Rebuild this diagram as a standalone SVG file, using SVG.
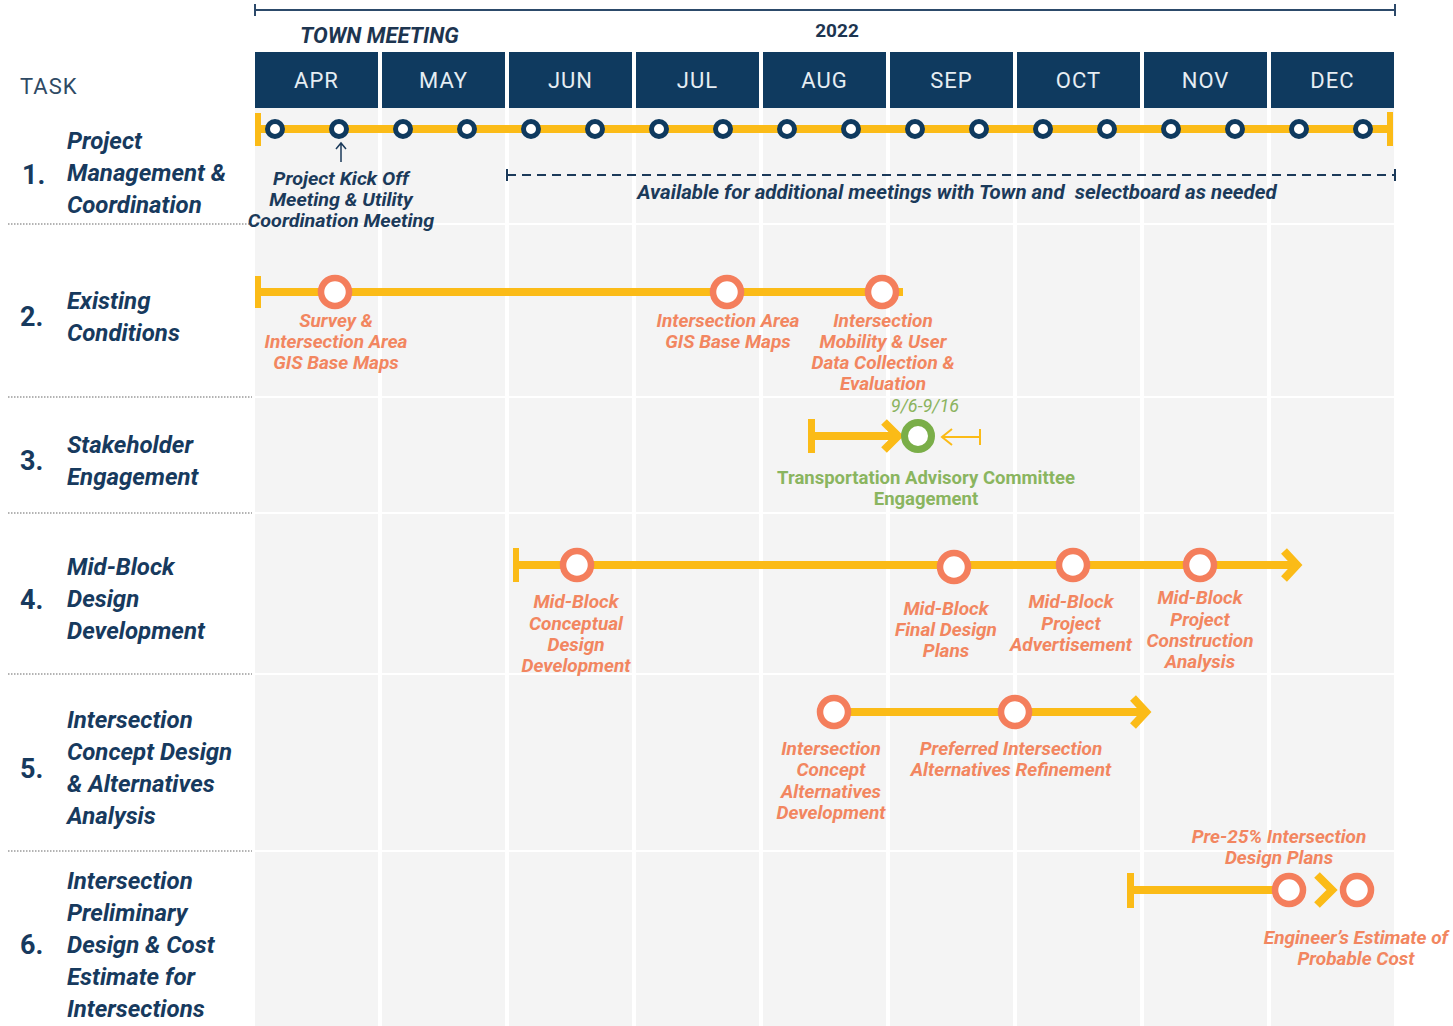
<svg xmlns="http://www.w3.org/2000/svg" width="1453" height="1026" viewBox="0 0 1453 1026">
<style>
.col{fill:#f4f4f4}
.hdr{fill:#0f3a5f}
.mon{font-family:Roboto,"Liberation Sans",sans-serif;font-size:22px;fill:#e6edf3;text-anchor:middle;letter-spacing:1px}
.task{font-family:Roboto,"Liberation Sans",sans-serif;font-size:24px;font-weight:bold;font-style:italic;fill:#173a5e}
.num{font-family:Roboto,"Liberation Sans",sans-serif;font-size:27px;font-weight:bold;fill:#173a5e}
.nv{font-family:Roboto,"Liberation Sans",sans-serif;font-size:19px;font-weight:bold;font-style:italic;fill:#1b3a5a;text-anchor:middle}
.av{font-family:Roboto,"Liberation Sans",sans-serif;font-size:20.5px;font-weight:bold;font-style:italic;fill:#1b3a5a;text-anchor:middle;white-space:pre}
.or{font-family:Roboto,"Liberation Sans",sans-serif;font-size:19px;font-weight:bold;font-style:italic;fill:#f28660;text-anchor:middle}
.gr{font-family:Roboto,"Liberation Sans",sans-serif;font-size:18.5px;font-weight:bold;fill:#8ab55f;text-anchor:middle}
.dt{font-family:Roboto,"Liberation Sans",sans-serif;font-size:18px;font-style:italic;fill:#8bb35e;text-anchor:middle}
.sep{stroke:#9a9a9a;stroke-width:1.5;stroke-dasharray:1.5 1.5;fill:none}
.yl{stroke:#fbbb17;stroke-width:8;fill:none}
.cap{fill:#fbbb17}
.dot{fill:#fff;stroke:#0f3a5f;stroke-width:5}
.oc{fill:#fff;stroke:#f47e5c;stroke-width:6.5}
.gc{fill:#fff;stroke:#7aae48;stroke-width:7}
</style>
<rect width="1453" height="1026" fill="#ffffff"/>
<g id="grid">
<rect class="col" x="255" y="108" width="123" height="918"/>
<rect class="col" x="382" y="108" width="123" height="918"/>
<rect class="col" x="509" y="108" width="123" height="918"/>
<rect class="col" x="636" y="108" width="123" height="918"/>
<rect class="col" x="763" y="108" width="123" height="918"/>
<rect class="col" x="890" y="108" width="123" height="918"/>
<rect class="col" x="1017" y="108" width="123" height="918"/>
<rect class="col" x="1144" y="108" width="123" height="918"/>
<rect class="col" x="1271" y="108" width="123" height="918"/>
<g stroke="#ffffff" stroke-width="2">
<line x1="255" y1="224" x2="1394" y2="224"/>
<line x1="255" y1="397" x2="1394" y2="397"/>
<line x1="255" y1="513" x2="1394" y2="513"/>
<line x1="255" y1="674" x2="1394" y2="674"/>
<line x1="255" y1="851" x2="1394" y2="851"/>
</g>
<line class="sep" x1="8" y1="224" x2="252" y2="224"/>
<line class="sep" x1="8" y1="397" x2="252" y2="397"/>
<line class="sep" x1="8" y1="513" x2="252" y2="513"/>
<line class="sep" x1="8" y1="674" x2="252" y2="674"/>
<line class="sep" x1="8" y1="851" x2="252" y2="851"/>
</g>
<g id="header">
<path d="M255,4 V16 M255,10 H1395 M1395,4 V16" stroke="#2c4a6a" stroke-width="2" fill="none"/>
<text x="300" y="43" font-family="Roboto,'Liberation Sans',sans-serif" font-size="22" font-weight="bold" font-style="italic" fill="#1d3550">TOWN MEETING</text>
<text x="837" y="37" font-family="Roboto,'Liberation Sans',sans-serif" font-size="19" font-weight="bold" fill="#1d3550" text-anchor="middle">2022</text>
<text x="20" y="94" font-family="Roboto,'Liberation Sans',sans-serif" font-size="22" fill="#2f4a64" letter-spacing="1">TASK</text>
<rect class="hdr" x="255" y="52" width="123" height="56"/>
<rect class="hdr" x="382" y="52" width="123" height="56"/>
<rect class="hdr" x="509" y="52" width="123" height="56"/>
<rect class="hdr" x="636" y="52" width="123" height="56"/>
<rect class="hdr" x="763" y="52" width="123" height="56"/>
<rect class="hdr" x="890" y="52" width="123" height="56"/>
<rect class="hdr" x="1017" y="52" width="123" height="56"/>
<rect class="hdr" x="1144" y="52" width="123" height="56"/>
<rect class="hdr" x="1271" y="52" width="123" height="56"/>
<text class="mon" x="316.5" y="88">APR</text>
<text class="mon" x="443.5" y="88">MAY</text>
<text class="mon" x="570.5" y="88">JUN</text>
<text class="mon" x="697.5" y="88">JUL</text>
<text class="mon" x="824.5" y="88">AUG</text>
<text class="mon" x="951.5" y="88">SEP</text>
<text class="mon" x="1078.5" y="88">OCT</text>
<text class="mon" x="1205.5" y="88">NOV</text>
<text class="mon" x="1332.5" y="88">DEC</text>
</g>
<g id="task-labels">
<text class="num" x="22" y="184">1.</text>
<text class="task"><tspan x="67" y="149">Project</tspan><tspan x="67" y="181">Management &amp;</tspan><tspan x="67" y="213">Coordination</tspan></text>
<text class="num" x="20" y="326">2.</text>
<text class="task"><tspan x="67" y="309">Existing</tspan><tspan x="67" y="341">Conditions</tspan></text>
<text class="num" x="20" y="470">3.</text>
<text class="task"><tspan x="67" y="453">Stakeholder</tspan><tspan x="67" y="485">Engagement</tspan></text>
<text class="num" x="20" y="609">4.</text>
<text class="task"><tspan x="67" y="575">Mid-Block</tspan><tspan x="67" y="607">Design</tspan><tspan x="67" y="639">Development</tspan></text>
<text class="num" x="20" y="778">5.</text>
<text class="task"><tspan x="67" y="728">Intersection</tspan><tspan x="67" y="760">Concept Design</tspan><tspan x="67" y="792">&amp; Alternatives</tspan><tspan x="67" y="824">Analysis</tspan></text>
<text class="num" x="20" y="954">6.</text>
<text class="task"><tspan x="67" y="889">Intersection</tspan><tspan x="67" y="921">Preliminary</tspan><tspan x="67" y="953">Design &amp; Cost</tspan><tspan x="67" y="985">Estimate for</tspan><tspan x="67" y="1017">Intersections</tspan></text>
</g>
<g id="connectors">
<line class="yl" x1="258" y1="129" x2="1390" y2="129"/>
<rect class="cap" x="255" y="113" width="6" height="33"/>
<rect class="cap" x="1387" y="112" width="6" height="34"/>
<path d="M341,162 V143 M336,149 L341,143 L346,149" stroke="#1b3a5a" stroke-width="1.5" fill="none"/>
<path d="M507,169 V181 M1395,169 V181" stroke="#1b3a5a" stroke-width="2" fill="none"/>
<line x1="507" y1="175" x2="1395" y2="175" stroke="#1b3a5a" stroke-width="2" stroke-dasharray="9 6"/>
<line class="yl" x1="258" y1="292" x2="903" y2="292"/>
<rect class="cap" x="255" y="276" width="6" height="32"/>
<line class="yl" x1="811" y1="436" x2="895" y2="436"/>
<rect class="cap" x="808" y="419" width="7" height="34"/>
<polyline class="yl" points="884,422 898,436 884,450"/>
<path d="M980,429 V445 M980,437 H942 M952,429 L942,437 L952,445" stroke="#fbbb17" stroke-width="2" fill="none"/>
<line class="yl" x1="516" y1="565" x2="1293" y2="565"/>
<rect class="cap" x="513" y="548" width="6" height="34"/>
<polyline class="yl" points="1284,551 1297,565 1284,579"/>
<line class="yl" x1="834" y1="712" x2="1142" y2="712"/>
<polyline class="yl" points="1133,698 1146,712 1133,726"/>
<line class="yl" x1="1131" y1="890" x2="1290" y2="890"/>
<rect class="cap" x="1127" y="873" width="7" height="35"/>
<polyline class="yl" points="1317,875 1332,890 1317,905"/>
</g>
<g id="task1">
<circle class="dot" cx="275" cy="129" r="7.5"/>
<circle class="dot" cx="339" cy="129" r="7.5"/>
<circle class="dot" cx="403" cy="129" r="7.5"/>
<circle class="dot" cx="467" cy="129" r="7.5"/>
<circle class="dot" cx="531" cy="129" r="7.5"/>
<circle class="dot" cx="595" cy="129" r="7.5"/>
<circle class="dot" cx="659" cy="129" r="7.5"/>
<circle class="dot" cx="723" cy="129" r="7.5"/>
<circle class="dot" cx="787" cy="129" r="7.5"/>
<circle class="dot" cx="851" cy="129" r="7.5"/>
<circle class="dot" cx="915" cy="129" r="7.5"/>
<circle class="dot" cx="979" cy="129" r="7.5"/>
<circle class="dot" cx="1043" cy="129" r="7.5"/>
<circle class="dot" cx="1107" cy="129" r="7.5"/>
<circle class="dot" cx="1171" cy="129" r="7.5"/>
<circle class="dot" cx="1235" cy="129" r="7.5"/>
<circle class="dot" cx="1299" cy="129" r="7.5"/>
<circle class="dot" cx="1363" cy="129" r="7.5"/>
<text class="nv" transform="translate(341,0) scale(1.04,1)"><tspan x="0" y="185">Project Kick Off</tspan><tspan x="0" y="206">Meeting &amp; Utility</tspan><tspan x="0" y="227">Coordination Meeting</tspan></text>
<text class="av" x="957" y="199">Available for additional meetings with Town and  selectboard as needed</text>
</g>
<g id="task2">
<circle class="oc" cx="335" cy="292" r="14"/>
<circle class="oc" cx="727" cy="292" r="14"/>
<circle class="oc" cx="882" cy="292" r="14"/>
<text class="or"><tspan x="336" y="327">Survey &amp;</tspan><tspan x="336" y="348">Intersection Area</tspan><tspan x="336" y="369">GIS Base Maps</tspan></text>
<text class="or"><tspan x="728" y="327">Intersection Area</tspan><tspan x="728" y="348">GIS Base Maps</tspan></text>
<text class="or"><tspan x="883" y="327">Intersection</tspan><tspan x="883" y="348">Mobility &amp; User</tspan><tspan x="883" y="369">Data Collection &amp;</tspan><tspan x="883" y="390">Evaluation</tspan></text>
</g>
<g id="task3">
<text class="dt" x="925" y="412">9/6-9/16</text>
<circle class="gc" cx="918" cy="436" r="13.5"/>
<text class="gr"><tspan x="926" y="484">Transportation Advisory Committee</tspan><tspan x="926" y="505">Engagement</tspan></text>
</g>
<g id="task4">
<circle class="oc" cx="577" cy="565" r="14"/>
<circle class="oc" cx="954" cy="567" r="14"/>
<circle class="oc" cx="1073" cy="565" r="14"/>
<circle class="oc" cx="1200" cy="565" r="14"/>
<text class="or"><tspan x="576" y="608">Mid-Block</tspan><tspan x="576" y="630">Conceptual</tspan><tspan x="576" y="651">Design</tspan><tspan x="576" y="672">Development</tspan></text>
<text class="or"><tspan x="946" y="615">Mid-Block</tspan><tspan x="946" y="636">Final Design</tspan><tspan x="946" y="657">Plans</tspan></text>
<text class="or"><tspan x="1071" y="608">Mid-Block</tspan><tspan x="1071" y="630">Project</tspan><tspan x="1071" y="651">Advertisement</tspan></text>
<text class="or"><tspan x="1200" y="604">Mid-Block</tspan><tspan x="1200" y="626">Project</tspan><tspan x="1200" y="647">Construction</tspan><tspan x="1200" y="668">Analysis</tspan></text>
</g>
<g id="task5">
<circle class="oc" cx="834" cy="712" r="14"/>
<circle class="oc" cx="1015" cy="712" r="14"/>
<text class="or"><tspan x="831" y="755">Intersection</tspan><tspan x="831" y="776">Concept</tspan><tspan x="831" y="798">Alternatives</tspan><tspan x="831" y="819">Development</tspan></text>
<text class="or"><tspan x="1011" y="755">Preferred Intersection</tspan><tspan x="1011" y="776">Alternatives Refinement</tspan></text>
</g>
<g id="task6">
<circle class="oc" cx="1289" cy="890" r="14"/>
<circle class="oc" cx="1357" cy="890" r="14"/>
<text class="or"><tspan x="1279" y="843">Pre-25% Intersection</tspan><tspan x="1279" y="864">Design Plans</tspan></text>
<text class="or"><tspan x="1356" y="944">Engineer’s Estimate of</tspan><tspan x="1356" y="965">Probable Cost</tspan></text>
</g>
</svg>
